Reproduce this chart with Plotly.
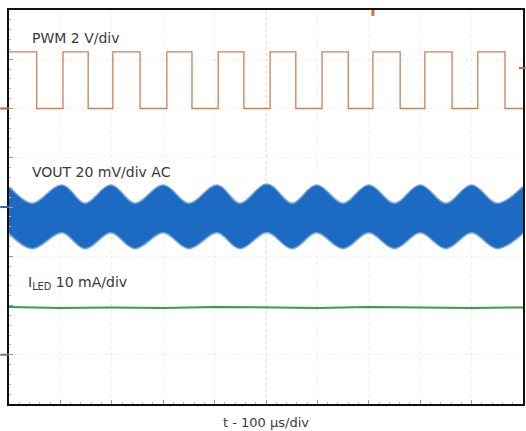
import plotly.graph_objects as go

# ---- data (screen divisions: x in µs, y in divisions, 8 div tall) ----
pwm_time_us = [0, 54, 105, 154, 202, 255, 307, 356, 407, 457, 508, 558, 609, 660, 708, 761, 809, 862, 912, 965, 1000]
pwm_level_div = [3.15, 2.0, 3.15, 2.0, 3.15, 2.0, 3.15, 2.0, 3.15, 2.0, 3.15, 2.0, 3.15, 2.0, 3.15, 2.0, 3.15, 2.0, 3.15, 2.0, 2.0]

vout_time_us = [0, 45, 103, 148, 198, 245, 300, 350, 405, 449, 502, 551, 598, 650, 700, 750, 800, 850, 900, 950, 1000]
vout_top_div = [0.40, 0.06, 0.43, 0.06, 0.43, 0.06, 0.43, 0.06, 0.43, 0.06, 0.45, 0.06, 0.43, 0.06, 0.43, 0.06, 0.43, 0.06, 0.43, 0.06, 0.40]
vout_bot_div = [-0.52, -0.83, -0.51, -0.83, -0.51, -0.83, -0.51, -0.83, -0.51, -0.83, -0.50, -0.83, -0.51, -0.83, -0.51, -0.83, -0.51, -0.83, -0.51, -0.83, -0.52]

iled_time_us = [0, 100, 200, 300, 400, 500, 600, 700, 800, 900, 1000]
iled_level_div = [-2.03, -2.05, -2.04, -2.05, -2.03, -2.04, -2.05, -2.03, -2.04, -2.05, -2.04]

channel_offsets_div = {"pwm": 2.0, "vout": 0.0, "iled": -3.0}
trigger_level_div = 2.82
trigger_time_us = 708

labels = {
    "pwm": "PWM 2 V/div",
    "vout": "VOUT 20 mV/div AC",
    "iled": "I<sub>LED</sub> 10 mA/div",
    "x": "t - 100 \u00b5s/div",
}

PWM_C = "#cc8058"
VOUT_C = "#1d6ac2"
ILED_C = "#3f9a48"
TXT_C = "#3a3a3a"
FONT = "DejaVu Sans, Liberation Sans, Arial, sans-serif"

fig = go.Figure()

# VOUT band (dense ripple drawn as filled envelope)
fig.add_trace(go.Scatter(x=vout_time_us, y=vout_bot_div, mode="lines",
                         line=dict(color="rgba(29,106,194,0.6)", width=3, shape="spline", smoothing=1.0),
                         hoverinfo="skip", showlegend=False))
fig.add_trace(go.Scatter(x=vout_time_us, y=vout_top_div, mode="lines",
                         line=dict(color="rgba(29,106,194,0.6)", width=3, shape="spline", smoothing=1.0),
                         fill="tonexty", fillcolor=VOUT_C,
                         hoverinfo="skip", showlegend=False))

# ILED
fig.add_trace(go.Scatter(x=iled_time_us, y=iled_level_div, mode="lines",
                         line=dict(color=ILED_C, width=2),
                         hoverinfo="skip", showlegend=False))

# PWM
fig.add_trace(go.Scatter(x=pwm_time_us, y=pwm_level_div, mode="lines",
                         line=dict(color=PWM_C, width=1.3, shape="hv"),
                         hoverinfo="skip", showlegend=False))

# centre lines
fig.add_shape(type="line", xref="x", yref="paper", x0=500, x1=500, y0=0, y1=1,
              line=dict(color="rgba(200,150,110,0.30)", width=1, dash="dot"), layer="below")
fig.add_shape(type="line", xref="paper", yref="y", x0=0, x1=1, y0=0, y1=0,
              line=dict(color="rgba(0,0,0,0.10)", width=1, dash="dot"), layer="below")

# channel markers on left edge
for key, col in (("pwm", "#b5653c"), ("vout", VOUT_C), ("iled", "#777777")):
    fig.add_shape(type="line", xref="paper", yref="y", x0=-0.017, x1=0.0,
                  y0=channel_offsets_div[key], y1=channel_offsets_div[key],
                  line=dict(color=col, width=2))
# trigger markers
fig.add_shape(type="line", xref="paper", yref="y", x0=0.992, x1=1.005,
              y0=trigger_level_div, y1=trigger_level_div, line=dict(color="#c0603a", width=2))
fig.add_shape(type="line", xref="x", yref="paper", x0=trigger_time_us, x1=trigger_time_us,
              y0=0.985, y1=1.0, line=dict(color="#d07040", width=3))

# labels
fig.add_annotation(x=41, y=3.43, xref="x", yref="y", text=labels["pwm"], showarrow=False,
                   xanchor="left", yanchor="middle", font=dict(family=FONT, size=14, color=TXT_C))
fig.add_annotation(x=41, y=0.72, xref="x", yref="y", text=labels["vout"], showarrow=False,
                   xanchor="left", yanchor="middle", font=dict(family=FONT, size=14, color=TXT_C))
fig.add_annotation(x=33, y=-1.55, xref="x", yref="y", text=labels["iled"], showarrow=False,
                   xanchor="left", yanchor="middle", font=dict(family=FONT, size=14, color=TXT_C))

axis_common = dict(showline=True, linecolor="#111111", linewidth=2, mirror=True,
                   showticklabels=False, zeroline=False, automargin=False,
                   showgrid=True, gridcolor="rgba(0,0,0,0.06)", griddash="dot", gridwidth=1,
                   ticks="inside", ticklen=4, tickcolor="#999999",
                   minor=dict(ticks="inside", ticklen=2, tickcolor="#bbbbbb", showgrid=False))

fig.update_xaxes(range=[0, 1000], dtick=100, tick0=0, minor_dtick=20,
                 title=dict(text=labels["x"], standoff=13,
                            font=dict(family=FONT, size=13, color=TXT_C)),
                 **axis_common)
fig.update_yaxes(range=[-4, 4], dtick=1, tick0=0, minor_dtick=0.2, **axis_common)

fig.update_layout(width=526, height=431,
                  margin=dict(l=9, r=3, t=10, b=27, autoexpand=False),
                  plot_bgcolor="white", paper_bgcolor="white",
                  showlegend=False)

fig.write_html("out.html", config={"displayModeBar": False, "staticPlot": True})

# remove default page margin so the figure sits at the window origin
with open("out.html", "r", encoding="utf-8") as f:
    html = f.read()
html = html.replace("<head>", "<head><style>html,body{margin:0;padding:0;overflow:hidden;}</style>", 1)
with open("out.html", "w", encoding="utf-8") as f:
    f.write(html)
